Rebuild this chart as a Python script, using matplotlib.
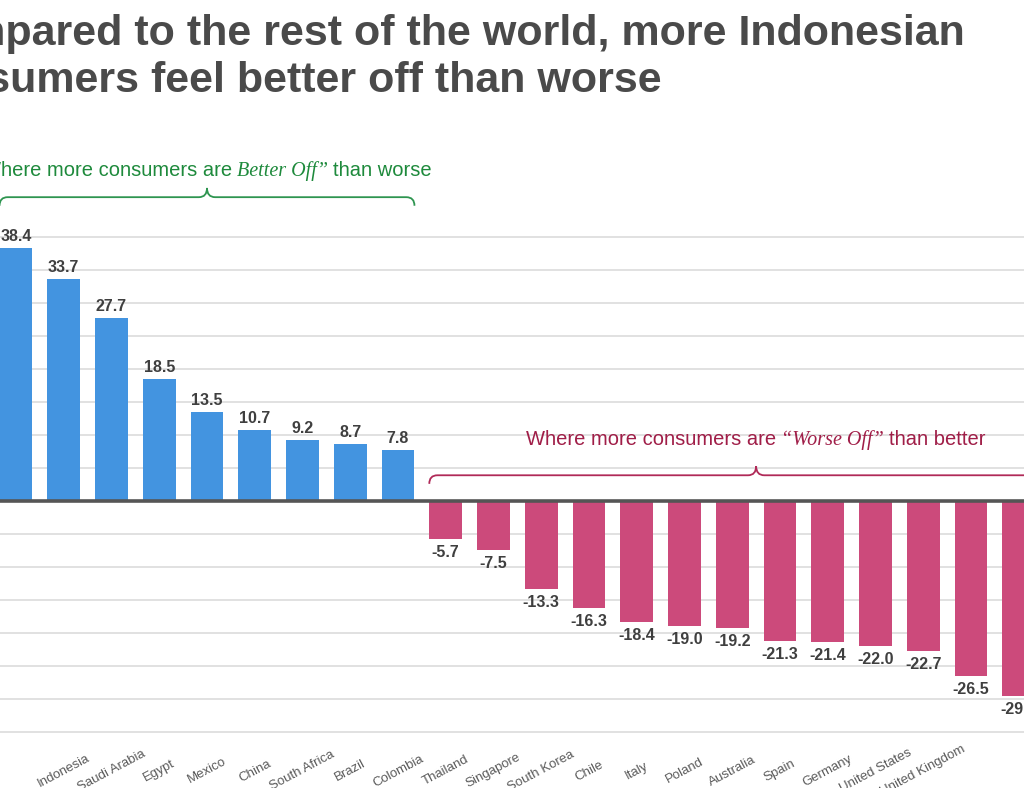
import matplotlib

matplotlib.use("Agg")
import matplotlib.pyplot as plt
from matplotlib.path import Path
from matplotlib.patches import PathPatch
from matplotlib.transforms import IdentityTransform

# net share of consumers feeling better off minus worse off
COUNTRIES = ["", "Indonesia", "Saudi Arabia", "Egypt", "Mexico", "China", "South Africa",
             "Brazil", "Colombia", "Thailand", "Singapore", "South Korea", "Chile", "Italy",
             "Poland", "Australia", "Spain", "Germany", "United States", "United Kingdom",
             "", ""]
NET_SCORE = [38.4, 33.7, 27.7, 18.5, 13.5, 10.7, 9.2, 8.7, 7.8, -5.7, -7.5, -13.3, -16.3,
             -18.4, -19.0, -19.2, -21.3, -21.4, -22.0, -22.7, -26.5, -29.6]
VALUE_LABELS = ["38.4", "33.7", "27.7", "18.5", "13.5", "10.7", "9.2", "8.7", "7.8", "-5.7",
                "-7.5", "-13.3", "-16.3", "-18.4", "-19.0", "-19.2", "-21.3", "-21.4",
                "-22.0", "-22.7", "-26.5", "-29.6"]
TITLE = ["Compared to the rest of the world, more Indonesian",
         "consumers feel better off than worse"]

BLUE = "#4394E0"
PINK = "#CC4A7B"
GREEN = "#1E8A3C"
CRIMSON = "#A01E48"
SANS = ["Liberation Sans", "DejaVu Sans"]
SERIF = ["Liberation Serif", "DejaVu Serif"]
BAR_W = 0.69


def brace(ax, x0, x1, y, hook, peak, color, r=0.17):
    xc = (x0 + x1) / 2
    verts = [(x0, y - hook), (x0, y), (x0 + r, y),
             (xc - r, y), (xc, y), (xc, y + peak),
             (xc, y), (xc + r, y),
             (x1 - r, y), (x1, y), (x1, y - hook)]
    codes = [Path.MOVETO, Path.CURVE3, Path.CURVE3,
             Path.LINETO, Path.CURVE3, Path.CURVE3,
             Path.CURVE3, Path.CURVE3,
             Path.LINETO, Path.CURVE3, Path.CURVE3]
    ax.add_patch(PathPatch(Path(verts, codes), fill=False, edgecolor=color,
                           linewidth=1.3, clip_on=False, zorder=4))


def mixed_text(fig, ax, xc, y, parts, color, size=14.5, gap=5):
    """Centre a run of differently styled text pieces on data point (xc, y)."""
    texts = []
    for txt, family, style in parts:
        texts.append(fig.text(0, 0, txt, family=family, style=style, color=color,
                              fontsize=size, va="baseline", ha="left"))
    renderer = fig.canvas.get_renderer()
    widths = [t.get_window_extent(renderer).width for t in texts]
    total = sum(widths) + gap * (len(texts) - 1)
    cx, cy = ax.transData.transform((xc, y))
    x = cx - total / 2
    for t, w in zip(texts, widths):
        t.set_transform(IdentityTransform())
        t.set_position((x, cy))
        x += w + gap


fig = plt.figure(figsize=(10.24, 7.88), dpi=100)
ax = fig.add_axes([0, 0.04645, 1, 0.66904])
xs = list(range(len(NET_SCORE)))
colors = [BLUE if v > 0 else PINK for v in NET_SCORE]
ax.bar(xs, NET_SCORE, width=BAR_W, color=colors, zorder=2)
ax.axhline(0, color="#555555", linewidth=2.6, zorder=3)

for x, v, lab in zip(xs, NET_SCORE, VALUE_LABELS):
    ax.annotate(lab, (x, v), xytext=(0, 4 if v > 0 else -6), textcoords="offset pixels",
                ha="center", va="bottom" if v > 0 else "top", fontsize=11.5,
                fontweight="bold", color="#3f3f3f", family=SANS, clip_on=False)

ax.set_xlim(-0.335, 21.11)
ax.set_ylim(-38, 42)
ax.set_yticks(range(-35, 45, 5))
ax.yaxis.grid(True, color="#dcdcdc", linewidth=1.2, zorder=0)
ax.set_axisbelow(True)
ax.tick_params(axis="y", length=0, labelleft=False)
ax.set_xticks(xs, COUNTRIES, rotation=28, ha="center", va="center",
              fontsize=9.5, color="#5a5a5a", family=SANS)
ax.tick_params(axis="x", length=0, pad=14)
for s in ax.spines.values():
    s.set_visible(False)

# brackets over the two groups
n_pos = sum(1 for v in NET_SCORE if v > 0)
brace(ax, -BAR_W / 2, n_pos - 1 + BAR_W / 2, 46.1, 1.3, 1.4, "#2E9550")
brace(ax, n_pos - BAR_W / 2, 22 + BAR_W / 2, 3.9, 1.3, 1.4, "#B02A58")

mixed_text(fig, ax, (n_pos - 1) / 2, 49.3,
           [("Where more consumers are", SANS, "normal"),
            ("Better Off\u201d", SERIF, "italic"),
            ("than worse", SANS, "normal")], GREEN)
mixed_text(fig, ax, (n_pos + 22) / 2, 8.5,
           [("Where more consumers are", SANS, "normal"),
            ("\u201cWorse Off\u201d", SERIF, "italic"),
            ("than better", SANS, "normal")], CRIMSON)

for i, line in enumerate(TITLE):
    fig.text(-90 / 1024, 1 - (45 + 47 * i) / 788, line, fontsize=31, fontweight="bold",
             color="#4a4a4a", family=SANS, va="baseline", ha="left")

fig.savefig("out.png", dpi=100)
